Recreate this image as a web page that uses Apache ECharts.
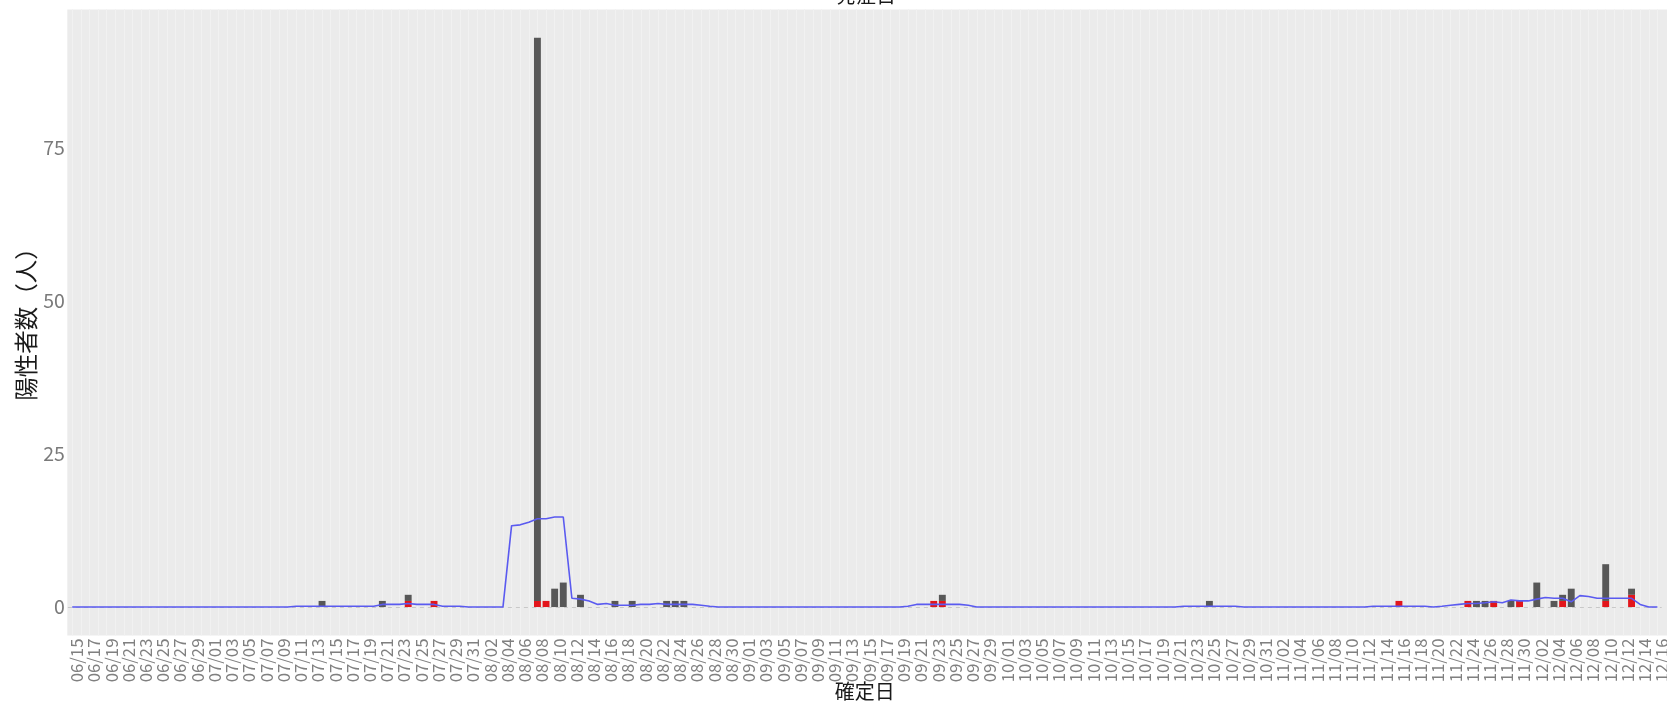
<!DOCTYPE html>
<html><head><meta charset="utf-8">
<script src="https://cdn.jsdelivr.net/npm/echarts@6/dist/echarts.min.js"></script>
<style>html,body{margin:0;padding:0;background:#fff}#c{width:1667px;height:703px}</style>
</head><body><div id="c"></div>
<script>
// categories: 確定日 (06/15 - 12/16)
const dates = [
 '06/15','06/16','06/17','06/18','06/19','06/20','06/21','06/22','06/23','06/24','06/25','06/26','06/27','06/28','06/29','06/30',
 '07/01','07/02','07/03','07/04','07/05','07/06','07/07','07/08','07/09','07/10','07/11','07/12','07/13','07/14','07/15','07/16','07/17','07/18','07/19','07/20','07/21','07/22','07/23','07/24','07/25','07/26','07/27','07/28','07/29','07/30','07/31',
 '08/01','08/02','08/03','08/04','08/05','08/06','08/07','08/08','08/09','08/10','08/11','08/12','08/13','08/14','08/15','08/16','08/17','08/18','08/19','08/20','08/21','08/22','08/23','08/24','08/25','08/26','08/27','08/28','08/29','08/30','08/31',
 '09/01','09/02','09/03','09/04','09/05','09/06','09/07','09/08','09/09','09/10','09/11','09/12','09/13','09/14','09/15','09/16','09/17','09/18','09/19','09/20','09/21','09/22','09/23','09/24','09/25','09/26','09/27','09/28','09/29','09/30',
 '10/01','10/02','10/03','10/04','10/05','10/06','10/07','10/08','10/09','10/10','10/11','10/12','10/13','10/14','10/15','10/16','10/17','10/18','10/19','10/20','10/21','10/22','10/23','10/24','10/25','10/26','10/27','10/28','10/29','10/30','10/31',
 '11/01','11/02','11/03','11/04','11/05','11/06','11/07','11/08','11/09','11/10','11/11','11/12','11/13','11/14','11/15','11/16','11/17','11/18','11/19','11/20','11/21','11/22','11/23','11/24','11/25','11/26','11/27','11/28','11/29','11/30',
 '12/01','12/02','12/03','12/04','12/05','12/06','12/07','12/08','12/09','12/10','12/11','12/12','12/13','12/14','12/15','12/16'
];
// red part of each bar (bottom)
const redCounts = [
 0,0,0,0,0,0,0,0,0,0,0,0,0,0,0,0,
 0,0,0,0,0,0,0,0,0,0, 0,0,0,0,0,0,0,0,0,0, 0,0,0,1,0,0,1,0,0,0,0,
 0,0,0,0,0,0,0,1,1,0, 0,0,0,0,0,0,0,0,0,0, 0,0,0,0,0,0,0,0,0,0,0,
 0,0,0,0,0,0,0,0,0,0, 0,0,0,0,0,0,0,0,0,0, 0,0,1,1,0,0,0,0,0,0,
 0,0,0,0,0,0,0,0,0,0, 0,0,0,0,0,0,0,0,0,0, 0,0,0,0,0,0,0,0,0,0,0,
 0,0,0,0,0,0,0,0,0,0, 0,0,0,0,0,1,0,0,0,0, 0,0,0,1,0,0,1,0,0,1,
 0,0,0,0,1,0,0,0,0,1, 0,0,2,0,0,0
];
// dark grey part of each bar (stacked on top)
const greyCounts = [
 0,0,0,0,0,0,0,0,0,0,0,0,0,0,0,0,
 0,0,0,0,0,0,0,0,0,0, 0,0,0,1,0,0,0,0,0,0, 1,0,0,1,0,0,0,0,0,0,0,
 0,0,0,0,0,0,0,92,0,3, 4,0,2,0,0,0,1,0,1,0, 0,0,1,1,1,0,0,0,0,0,0,
 0,0,0,0,0,0,0,0,0,0, 0,0,0,0,0,0,0,0,0,0, 0,0,0,1,0,0,0,0,0,0,
 0,0,0,0,0,0,0,0,0,0, 0,0,0,0,0,0,0,0,0,0, 0,0,0,0,1,0,0,0,0,0,0,
 0,0,0,0,0,0,0,0,0,0, 0,0,0,0,0,0,0,0,0,0, 0,0,0,0,1,1,0,0,1,0,
 0,4,0,1,1,3,0,0,0,6, 0,0,1,0,0,0
];
// blue line
const avgLine = [
 0,0,0,0,0,0,0,0,0,0,0,0,0,0,0,0,
 0,0,0,0,0,0,0,0,0,0, 0.14,0.14,0.14,0.14,0.14,0.14,0.14,0.14,0.14,0.14, 0.43,0.43,0.43,0.57,0.43,0.43,0.43,0.14,0.14,0.14,0,
 0,0,0,0,13.29,13.43,13.86,14.43,14.43,14.71, 14.71,1.43,1.29,1.0,0.43,0.57,0.29,0.29,0.29,0.43, 0.43,0.57,0.43,0.43,0.43,0.43,0.29,0.14,0,0,0,
 0,0,0,0,0,0,0,0,0,0, 0,0,0,0,0,0,0,0,0,0.14, 0.43,0.43,0.43,0.43,0.43,0.43,0.29,0,0,0,
 0,0,0,0,0,0,0,0,0,0, 0,0,0,0,0,0,0,0,0,0, 0,0.14,0.14,0.14,0.14,0.14,0.14,0.14,0,0,0,
 0,0,0,0,0,0,0,0,0,0, 0,0,0.14,0.14,0.14,0.14,0.14,0.14,0.14,0, 0.14,0.29,0.43,0.57,0.57,0.71,0.86,0.71,1.14,1.0,
 1.0,1.29,1.57,1.43,1.43,0.86,1.86,1.71,1.43,1.43, 1.43,1.43,1.43,0.43,0,0
];
const yTicks = [0, 25, 50, 75];

const FONT = '"Noto Sans CJK JP", "Noto Sans", sans-serif';
const GL = 67.9, GT = 9.4, GW = 1593.8, GH = 626.1;
const chart = echarts.init(document.getElementById('c'), null, {renderer: 'canvas', width: 1667, height: 703});
chart.setOption({
  animation: false,
  backgroundColor: '#ffffff',
  textStyle: {fontFamily: FONT},
  graphic: [
    {type: 'rect', z: -10, silent: true, shape: {x: 67.3, y: GT, width: 1667 - 67.3, height: GH}, style: {fill: '#ebebeb'}},
    {type: 'text', x: 866, y: -5, silent: true, style: {text: '発症日', fontSize: 20, fontFamily: FONT, fill: '#1a1a1a', align: 'center', verticalAlign: 'middle'}}
  ],
  grid: {left: GL, top: GT, width: GW, height: GH, containLabel: false, outerBoundsMode: 'none'},
  xAxis: {
    type: 'category', data: dates, boundaryGap: true,
    name: '確定日', nameLocation: 'middle', nameGap: 45.5, nameMoveOverlap: false,
    nameTextStyle: {fontSize: 20, color: '#1a1a1a', fontFamily: FONT},
    axisLine: {show: false, onZero: false},
    axisTick: {show: false},
    axisLabel: {interval: 1, rotate: 90, fontSize: 16.8, color: '#808080', margin: 3,
                verticalAlign: 'top', lineHeight: 9, showMinLabel: true, showMaxLabel: true, hideOverlap: false, fontFamily: FONT},
    splitLine: {show: true, interval: 0, alignWithLabel: true, lineStyle: {color: '#f1f1f1', width: 1}}
  },
  yAxis: {
    type: 'value', min: -4.65, max: 97.65,
    name: '陽性者数（人）', nameLocation: 'middle', nameGap: 30.4, nameRotate: 90, nameMoveOverlap: false,
    nameTextStyle: {fontSize: 23.5, color: '#1a1a1a', fontFamily: FONT, padding: [0, 0, 0, 8]},
    axisLine: {show: false},
    axisTick: {show: false},
    axisLabel: {customValues: yTicks, fontSize: 19.5, color: '#7a7a7a', margin: 3, fontFamily: FONT},
    splitLine: {show: false}
  },
  series: [
    {type: 'bar', name: 'red', stack: 'n', data: redCounts, barWidth: '80%', itemStyle: {color: '#e3151b'}, z: 2,
     markLine: {silent: true, symbol: 'none', label: {show: false}, lineStyle: {color: '#c8c8c8', type: [4, 4], width: 1}, data: [{yAxis: 0}]}},
    {type: 'bar', name: 'grey', stack: 'n', data: greyCounts, barWidth: '80%', itemStyle: {color: '#575757'}, z: 2},
    {type: 'line', name: 'avg', data: avgLine, symbol: 'none', z: 5, lineStyle: {color: '#5a5af0', width: 1.6}}
  ]
});
</script></body></html>
